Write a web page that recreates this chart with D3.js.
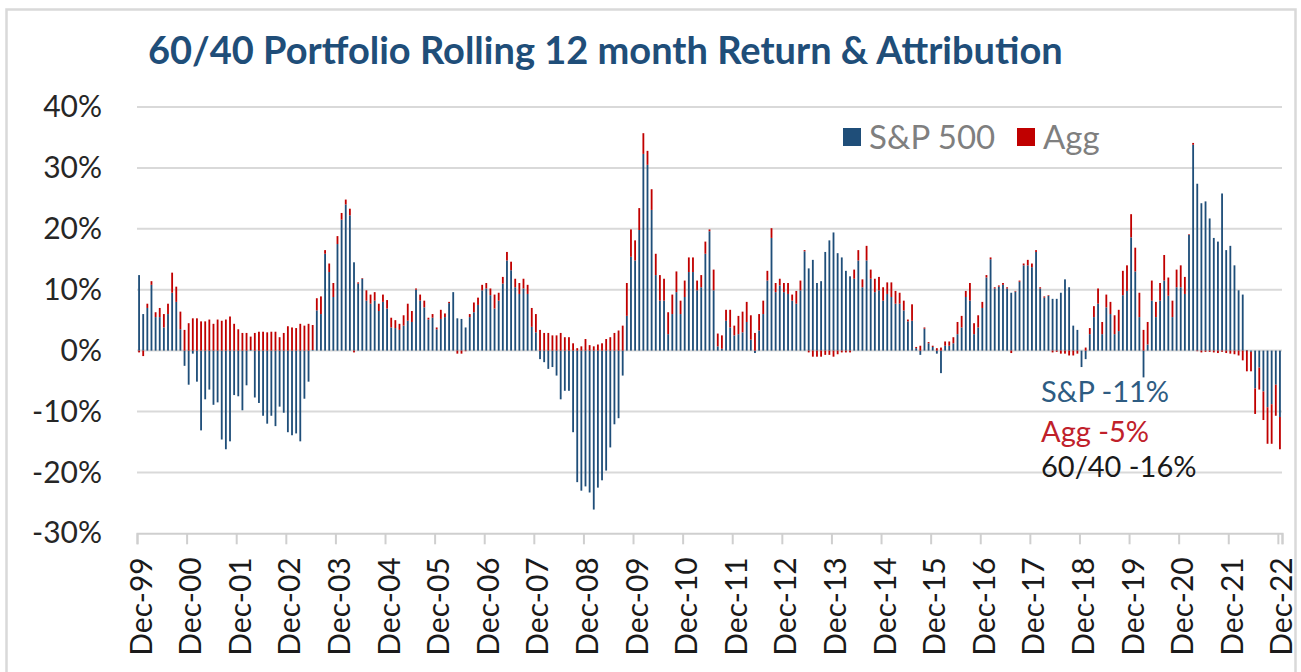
<!DOCTYPE html>
<html>
<head>
<meta charset="utf-8">
<script src="https://cdn.jsdelivr.net/npm/d3@7"></script>
<style>
  body { margin: 0; background: #fff; }
  text { font-family: Lato, "Open Sans", sans-serif; }
</style>
</head>
<body>
<svg id="chart" width="1301" height="672"></svg>
<script>
// rolling 12 month contribution to the 60/40 return, in %, monthly Dec-99 .. Dec-22
const tickLabels = ["Dec-99", "Dec-00", "Dec-01", "Dec-02", "Dec-03", "Dec-04", "Dec-05", "Dec-06",
    "Dec-07", "Dec-08", "Dec-09", "Dec-10", "Dec-11", "Dec-12", "Dec-13", "Dec-14", "Dec-15",
    "Dec-16", "Dec-17", "Dec-18", "Dec-19", "Dec-20", "Dec-21", "Dec-22"];

const spContribution = [
    12.4,
    6.0, 7.0, 10.8, 5.5, 5.5, 3.8, 6.0, 9.5, 8.0, 3.5, -2.5, -5.6,              // 2000
    -0.5, -5.1, -13.1, -8.0, -6.4, -8.9, -8.5, -14.6, -16.2, -14.9, -7.3, -7.5, // 2001
    -9.8, -5.7, 0.1, -7.7, -8.6, -10.7, -12.0, -10.7, -12.4, -9.2, -10.2, -13.4,// 2002
    -13.9, -13.6, -14.9, -7.9, -5.1, 0.1, 6.6, 6.0, 15.9, 12.9, 8.8, 17.5,      // 2003
    21.5, 24.0, 22.2, 14.5, 11.0, 11.8, 8.2, 7.7, 8.2, 6.5, 8.0, 6.9,           // 2004
    3.8, 3.7, 3.4, 4.1, 4.9, 4.7, 10.0, 8.2, 7.1, 5.1, 5.4, 3.5,                // 2005
    5.2, 5.5, 7.8, 9.6, 5.3, 5.2, 3.8, 5.5, 6.3, 7.5, 9.9, 10.2,                // 2006
    9.1, 6.9, 8.2, 11.0, 14.8, 13.2, 10.4, 9.3, 10.2, 9.3, 3.9, 3.0,            // 2007
    -1.4, -1.9, -3.0, -2.7, -4.1, -8.0, -6.6, -6.6, -13.4, -21.6, -23.0, -22.3, // 2008
    -23.3, -26.1, -22.5, -21.3, -19.7, -15.9, -12.1, -11.1, -4.1, 5.7, 15.4, 14.8, // 2009
    19.8, 32.3, 30.5, 23.1, 12.4, 8.2, 8.2, 2.7, 6.0, 9.6, 6.0, 8.8,            // 2010
    12.9, 12.9, 9.9, 10.4, 15.9, 19.6, 9.9, 0.7, 0.3, 4.9, 3.8, 2.5,            // 2011
    2.7, 3.0, 4.7, 1.8, -0.4, 3.3, 6.0, 11.5, 18.5, 9.6, 10.7, 9.6,             // 2012
    9.3, 8.2, 7.7, 9.9, 16.3, 13.5, 14.9, 11.1, 11.4, 16.2, 18.1, 19.4,         // 2013
    16.0, 15.3, 13.1, 12.2, 11.8, 14.8, 10.4, 14.8, 11.8, 9.6, 9.9, 8.2,        // 2014
    9.3, 8.8, 7.7, 7.7, 6.6, 4.8, 4.9, 0.4, -0.7, 3.6, 1.2, 0.6,                // 2015
    -0.5, -3.7, 0.8, 0.8, 1.2, 2.7, 3.8, 8.8, 8.2, 2.7, 3.8, 7.0,               // 2016
    12.0, 15.0, 10.2, 10.5, 10.8, 10.2, 9.5, 9.7, 11.3, 14.0, 14.0, 13.7,       // 2017
    16.2, 10.2, 8.7, 9.0, 8.5, 8.5, 9.5, 11.7, 10.4, 4.1, 3.4, -2.7,            // 2018
    -1.4, 2.7, 5.5, 7.7, 2.7, 7.1, 6.0, 2.7, 3.2, 9.1, 9.8, 18.6,               // 2019
    13.0, 5.5, -4.4, 1.0, 8.2, 5.5, 8.2, 11.5, 9.0, 5.5, 10.4, 10.4,            // 2020
    9.3, 19.0, 33.8, 27.4, 24.2, 24.5, 21.7, 18.5, 17.9, 25.8, 16.5, 17.2,      // 2021
    14.0, 9.9, 9.2, 0.1, -0.2, -6.2, -2.8, -6.7, -9.3, -8.8, -5.6, -10.9        // 2022
];

const aggContribution = [
    -0.3,
    -0.9, 0.7, 0.6, 0.8, 1.5, 2.2, 1.7, 3.3, 2.5, 2.9, 3.4, 4.5,   // 2000
    5.3, 5.3, 4.8, 4.8, 5.1, 4.4, 5.1, 4.9, 5.1, 5.6, 4.4, 3.5,    // 2001
    2.9, 2.9, 2.2, 2.9, 3.1, 3.1, 3.0, 3.1, 3.1, 2.2, 2.9, 4.0,    // 2002
    3.8, 3.7, 4.4, 4.1, 4.4, 4.1, 2.0, 2.9, 0.6, 1.4, 2.3, 1.3,    // 2003
    1.1, 0.8, 1.1, -0.3, 0.2, 0.1, 1.7, 1.5, 1.4, 1.2, 1.2, 1.4,   // 2004
    1.6, 1.3, 1.0, 1.7, 2.8, 1.8, 0.2, 1.0, 1.1, 0.3, 0.6, 0.3,    // 2005
    1.5, 0.6, 0.2, 0.0, -0.5, -0.5, -0.1, 0.5, 1.6, 1.2, 0.9, 0.9, // 2006
    1.1, 2.3, 1.3, 1.1, 1.4, 1.4, 1.4, 1.8, 1.6, 1.5, 3.1, 3.0,    // 2007
    3.4, 2.9, 2.9, 2.5, 2.5, 2.9, 2.2, 2.2, 1.2, 0.4, 0.7, 1.9,    // 2008
    0.9, 0.7, 1.0, 1.2, 1.9, 2.2, 2.9, 3.3, 4.1, 5.4, 4.5, 3.3,    // 2009
    3.6, 3.4, 2.3, 3.4, 3.5, 4.2, 3.6, 3.6, 3.2, 3.4, 2.2, 2.7,    // 2010
    2.4, 2.4, 1.6, 2.0, 2.0, 0.3, 3.4, 2.1, 2.2, 1.8, 2.9, 1.6,    // 2011
    3.0, 3.4, 3.3, 4.0, 2.9, 2.7, 2.2, 1.6, 1.6, 1.5, 1.1, 1.5,    // 2012
    1.8, 1.0, 2.1, 1.6, 0.2, -0.3, -1.0, -1.0, -1.0, -0.7, -0.7, -1.0, // 2013
    -0.6, -0.3, -0.3, -0.3, 1.5, 1.7, 1.3, 2.4, 1.5, 2.2, 2.2, 2.2,    // 2014
    1.9, 2.4, 2.1, 1.8, 1.6, 0.3, 2.7, 0.2, 0.8, 0.2, 0.2, 0.2,    // 2015
    0.4, 0.5, 0.7, 0.7, 1.0, 2.0, 1.9, 1.0, 2.9, 1.8, 2.0, 1.0,    // 2016
    0.4, 0.3, 0.2, 0.2, 0.3, 0.2, -0.4, 0.1, 0.2, 0.3, 0.9, 0.6,   // 2017
    0.3, 0.2, 0.2, 0.1, -0.3, -0.2, -0.5, -0.5, -0.8, -0.8, -0.5, 0.0, // 2018
    0.5, 1.0, 1.8, 2.5, 2.0, 2.1, 2.0, 3.1, 3.5, 4.0, 4.2, 3.8,    // 2019
    3.9, 4.0, 3.4, 3.7, 3.3, 2.5, 2.9, 4.2, 3.0, 2.7, 2.9, 3.6,    // 2020
    2.8, 0.1, 0.3, -0.1, -0.3, -0.2, -0.2, -0.3, -0.4, -0.2, -0.4, -0.5, // 2021
    -0.6, -0.8, -1.6, -3.4, -3.2, -4.2, -3.6, -4.7, -6.0, -6.5, -5.1, -5.3 // 2022
];

const yTicks = [-30, -20, -10, 0, 10, 20, 30, 40];
const seriesKeys = ["sp", "agg"];
const seriesNames = ["S&P 500", "Agg"];
const seriesColors = ["#1F4E79", "#C00000"];
const callouts = ["S&P -11%", "Agg -5%", "60/40 -16%"];

window.addEventListener("DOMContentLoaded", function () {
    var svg = d3.select("#chart");
    var left = 137, right = 1282, top = 107, bottom = 533.3;

    var months = d3.timeMonth.range(new Date(1999, 11, 1), new Date(2023, 0, 1));
    var fmt = d3.timeFormat("%b-%y");
    var rows = months.map(function (m, i) {
        return { month: fmt(m), sp: spContribution[i], agg: aggContribution[i] };
    });

    var x = d3.scaleBand().domain(rows.map(function (d) { return d.month; }))
        .range([left, right]).paddingInner(0.56).paddingOuter(0.28);
    var xEdge = d3.scaleLinear().domain([0, rows.length]).range([left, right]);
    var y = d3.scaleLinear().domain([-30, 40]).range([bottom, top]);

    // outer frame
    svg.append("rect").attr("x", 6.5).attr("y", 9.5).attr("width", 1289).attr("height", 700)
        .attr("fill", "none").attr("stroke", "#D9D9D9").attr("stroke-width", 2.5);

    // title
    svg.append("text").attr("x", 148).attr("y", 64)
        .attr("fill", "#1F4E79").style("font-weight", "bold").style("font-size", "38px")
        .text("60/40 Portfolio Rolling 12 month Return & Attribution");

    // gridlines
    svg.append("g").selectAll("line").data(yTicks.slice(1)).enter().append("line")
        .attr("x1", left).attr("x2", right)
        .attr("y1", function (d) { return y(d); }).attr("y2", function (d) { return y(d); })
        .attr("stroke", "#D9D9D9").attr("stroke-width", 2);

    // y axis labels
    var yAxis = svg.append("g").attr("transform", "translate(" + left + ",0)")
        .call(d3.axisLeft(y).tickValues(yTicks).tickSize(0).tickPadding(35)
            .tickFormat(function (d) { return d + "%"; }));
    yAxis.select(".domain").remove();
    yAxis.selectAll("text").style("font-size", "30px").style("font-family", "Lato, sans-serif")
        .attr("fill", "#262626");

    // stacked bars
    var stacked = d3.stack().keys(seriesKeys).offset(d3.stackOffsetDiverging)(rows);
    svg.append("g").selectAll("g").data(stacked).enter().append("g")
        .attr("fill", function (d, i) { return seriesColors[i]; })
        .selectAll("rect").data(function (d) { return d; }).enter().append("rect")
        .attr("x", function (d) { return x(d.data.month); })
        .attr("width", x.bandwidth())
        .attr("y", function (d) { return y(Math.max(d[0], d[1])); })
        .attr("height", function (d) { return Math.abs(y(d[0]) - y(d[1])); });

    // x axis: ticks at year boundaries, labels on the Dec bars
    var edges = d3.range(0, rows.length, 12).concat([rows.length]);
    var tickAxis = svg.append("g").attr("transform", "translate(0," + bottom + ")")
        .call(d3.axisBottom(xEdge).tickValues(edges).tickSize(11).tickFormat(""));
    tickAxis.selectAll("line, path").attr("stroke", "#CFCFCF").attr("stroke-width", 2);

    var labelAxis = svg.append("g").attr("transform", "translate(2," + bottom + ")")
        .call(d3.axisBottom(x).tickValues(tickLabels).tickSize(0));
    labelAxis.select(".domain").remove();
    labelAxis.selectAll("text")
        .style("font-size", "30px").style("font-family", "Lato, sans-serif").attr("fill", "#1a1a1a")
        .attr("text-anchor", "end").attr("y", 0).attr("dy", "0.35em")
        .attr("transform", "translate(0,24) rotate(-90)");

    // legend
    var legend = svg.append("g");
    var legendX = [843, 1017];
    seriesNames.forEach(function (name, i) {
        legend.append("rect").attr("x", legendX[i]).attr("y", 128).attr("width", 18).attr("height", 18)
            .attr("fill", seriesColors[i]);
        legend.append("text").attr("x", legendX[i] + 26).attr("y", 149)
            .style("font-size", "33px").attr("fill", "#7F7F7F").text(name);
    });

    // callouts for the latest month
    var calloutColors = ["#2E5C82", "#C0202A", "#1a1a1a"];
    var calloutY = [402, 442, 477];
    callouts.forEach(function (t, i) {
        svg.append("text").attr("x", 1041).attr("y", calloutY[i])
            .style("font-size", "29px").attr("fill", calloutColors[i]).text(t);
    });
});
</script>
</body>
</html>
